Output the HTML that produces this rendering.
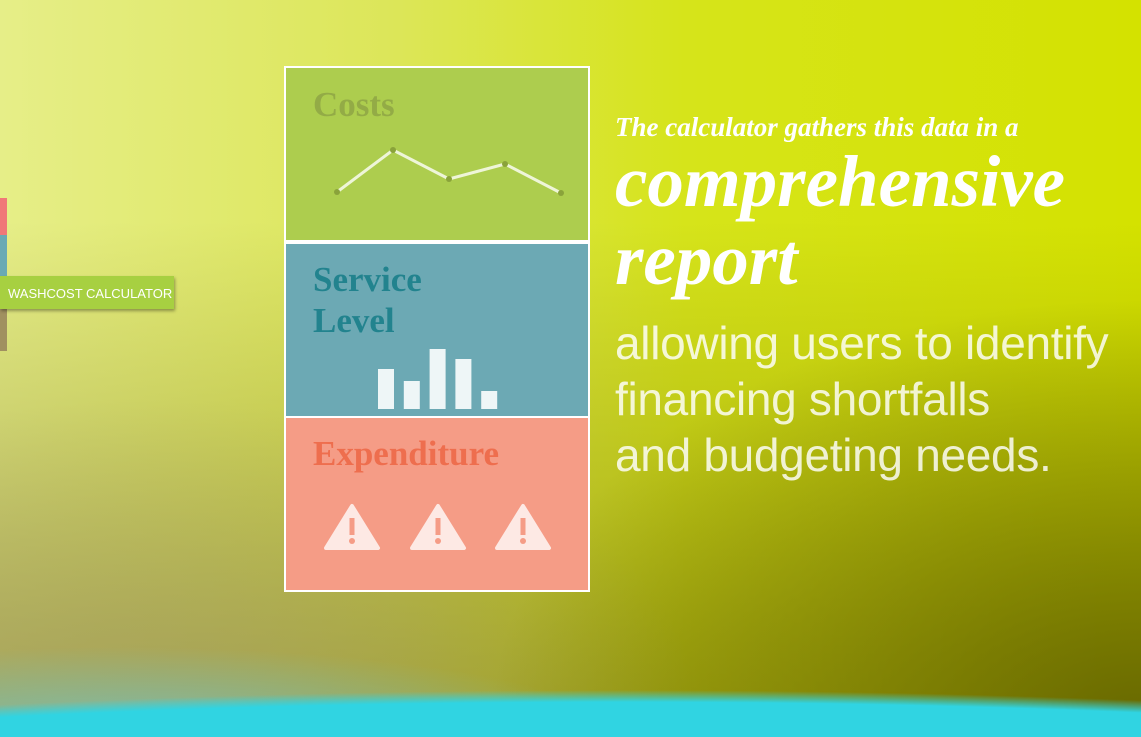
<!DOCTYPE html>
<html><head><meta charset="utf-8">
<style>
html,body{margin:0;padding:0;width:1141px;height:737px;overflow:hidden;}
body{position:relative;font-family:"Liberation Sans",sans-serif;}
.bg{position:absolute;left:0;top:0;width:1141px;height:737px;overflow:hidden;
background:
radial-gradient(ellipse 2000px 300px at 620px 990px, #30d4e2 96%, rgba(48,212,226,0) 100%),
radial-gradient(ellipse 500px 90px at 120px 737px, rgba(110,200,200,0.8), rgba(110,200,200,0) 100%),
radial-gradient(ellipse 650px 420px at 1141px 720px, rgba(95,95,0,0.85), rgba(95,95,0,0) 100%),
radial-gradient(ellipse 550px 320px at 150px 720px, rgba(165,155,105,0.6), rgba(165,155,105,0) 100%),
linear-gradient(180deg, rgba(0,0,0,0) 30%, rgba(90,80,0,0.45) 100%),
linear-gradient(90deg,#e6ee88 0%,#dce658 35%,#d6e41a 60%,#d4e200 100%);}
.card{position:absolute;left:284px;top:66px;width:302px;height:522px;border:2px solid #fff;background:#fff;}
.panel{position:absolute;left:0;width:302px;height:172px;}
.ptitle{position:absolute;left:27px;font-family:"Liberation Serif",serif;font-weight:bold;font-size:35px;line-height:41px;}
.tab{position:absolute;left:0;width:7px;}
.btn{position:absolute;left:0;top:276px;width:174px;height:33px;background:#a7d041;color:#fff;font-size:13px;line-height:36px;padding-left:8px;box-sizing:border-box;box-shadow:1px 2px 3px rgba(0,0,0,0.35);white-space:nowrap;overflow:hidden;}
.txt{position:absolute;left:615px;color:#fff;white-space:nowrap;}
</style></head>
<body>
<div class="bg"></div>

<div class="tab" style="top:198px;height:37px;background:#f07878"></div>
<div class="tab" style="top:235px;height:42px;background:#6aaab4"></div>
<div class="tab" style="top:309px;height:42px;background:#a09060"></div>
<div class="btn">WASHCOST CALCULATOR</div>

<div class="card">
  <div class="panel" style="top:0;background:#adcd4e">
    <div class="ptitle" style="top:16px;color:#93ab46">Costs</div>
    <svg id="costSvg" width="302" height="172" style="position:absolute;left:0;top:0"></svg>
  </div>
  <div class="panel" style="top:176px;background:#6ca9b4">
    <div class="ptitle" style="top:15px;color:#22838e">Service<br>Level</div>
    <svg id="barSvg" width="302" height="172" style="position:absolute;left:0;top:0"></svg>
  </div>
  <div class="panel" style="top:350px;background:#f59c86;height:172px">
    <div class="ptitle" style="top:15px;color:#ee6e4e">Expenditure</div>
    <svg width="302" height="172" style="position:absolute;left:0;top:0">
      <g transform="translate(66,0)">
        <path d="M-26,130 L0,88 L26,130 Z" fill="#fde9e4" stroke="#fde9e4" stroke-width="4" stroke-linejoin="round"/>
        <rect x="-2.5" y="100" width="5" height="17" fill="#f59c86"/><circle cx="0" cy="123" r="3" fill="#f59c86"/></g>
      <g transform="translate(152,0)">
        <path d="M-26,130 L0,88 L26,130 Z" fill="#fde9e4" stroke="#fde9e4" stroke-width="4" stroke-linejoin="round"/>
        <rect x="-2.5" y="100" width="5" height="17" fill="#f59c86"/><circle cx="0" cy="123" r="3" fill="#f59c86"/></g>
      <g transform="translate(237,0)">
        <path d="M-26,130 L0,88 L26,130 Z" fill="#fde9e4" stroke="#fde9e4" stroke-width="4" stroke-linejoin="round"/>
        <rect x="-2.5" y="100" width="5" height="17" fill="#f59c86"/><circle cx="0" cy="123" r="3" fill="#f59c86"/></g>
    </svg>
  </div>
</div>

<div class="txt" style="top:112px;font-family:'Liberation Serif',serif;font-style:italic;font-weight:bold;font-size:27px;">The calculator gathers this data in a</div>
<div class="txt" style="top:143px;font-family:'Liberation Serif',serif;font-style:italic;font-weight:bold;font-size:73px;line-height:78px;">comprehensive<br>report</div>
<div class="txt" style="top:315px;font-size:46px;line-height:56px;letter-spacing:-0.3px;color:rgba(255,255,255,0.82)">allowing users to identify<br>financing shortfalls<br>and budgeting needs.</div>

<script>
const costValues=[20,62,33,48,19];
const barValues=[40,28,60,50,18];
const NS="http://www.w3.org/2000/svg";
const cx=i=>51+i*(224/(costValues.length-1));
const cy=v=>144-v;
const cs=document.getElementById('costSvg');
const pl=document.createElementNS(NS,'polyline');
pl.setAttribute('points',costValues.map((v,i)=>cx(i)+','+cy(v)).join(' '));
pl.setAttribute('fill','none');pl.setAttribute('stroke','#eef5d8');pl.setAttribute('stroke-width','3');


cs.appendChild(pl);
costValues.forEach((v,i)=>{const c=document.createElementNS(NS,'circle');
c.setAttribute('cx',cx(i));c.setAttribute('cy',cy(v));c.setAttribute('r','3');c.setAttribute('fill','#8aa33a');


cs.appendChild(c);});
const bs=document.getElementById('barSvg');
const by=v=>165-v;
barValues.forEach((v,i)=>{const r=document.createElementNS(NS,'rect');
r.setAttribute('x',92+i*25.8);r.setAttribute('y',by(v));r.setAttribute('width','16');r.setAttribute('height',v);
r.setAttribute('fill','#eef6f7');


bs.appendChild(r);});
</script>
</body></html>
